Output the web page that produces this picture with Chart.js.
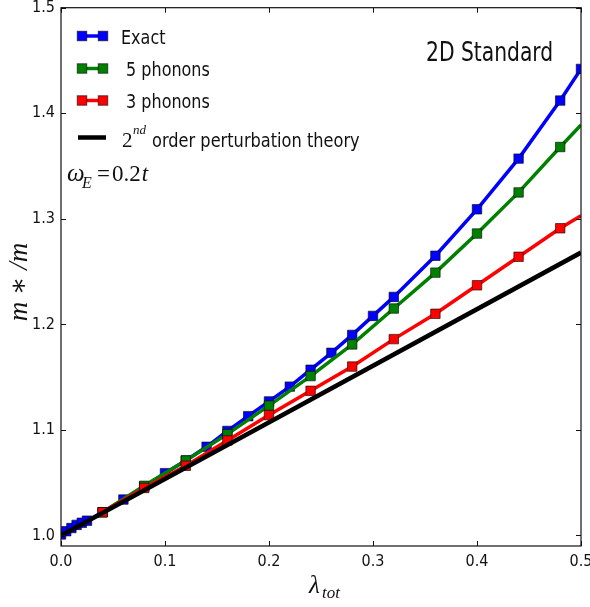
<!DOCTYPE html>
<html>
<head>
<meta charset="utf-8">
<script src="https://cdn.jsdelivr.net/npm/chart.js@4.4.1/dist/chart.umd.min.js"></script>
<style>
  html, body { margin: 0; padding: 0; background: #fff; }
  canvas { display: block; }
</style>
</head>
<body>
<canvas id="massChart" width="590" height="607"></canvas>
<script>
// values (lambda_tot vs m*/m)
const exactX = [0, 0.005, 0.01, 0.015, 0.02, 0.025, 0.04, 0.06, 0.08, 0.1, 0.12, 0.14, 0.16, 0.18, 0.2, 0.22, 0.24, 0.26, 0.28, 0.3, 0.32, 0.36, 0.4, 0.44, 0.48, 0.5];
const exactY = [1.001, 1.004, 1.007, 1.010, 1.012, 1.014, 1.022, 1.034, 1.046, 1.059, 1.071, 1.084, 1.099, 1.113, 1.127, 1.141, 1.157, 1.173, 1.190, 1.208, 1.226, 1.265, 1.309, 1.357, 1.412, 1.442];

const phonon5X = [0.04, 0.08, 0.12, 0.16, 0.2, 0.24, 0.28, 0.32, 0.36, 0.4, 0.44, 0.48, 0.5];
const phonon5Y = [1.022, 1.047, 1.071, 1.096, 1.123, 1.151, 1.181, 1.215, 1.249, 1.286, 1.325, 1.368, 1.389];

const phonon3X = [0.04, 0.08, 0.12, 0.16, 0.2, 0.24, 0.28, 0.32, 0.36, 0.4, 0.44, 0.48, 0.5];
const phonon3Y = [1.022, 1.045, 1.066, 1.090, 1.114, 1.137, 1.160, 1.186, 1.210, 1.237, 1.264, 1.291, 1.303];

const pertX = [0, 0.5];
const pertY = [1.0, 1.268];

const xTicks = [0, 0.1, 0.2, 0.3, 0.4, 0.5];
const yTicks = [1.0, 1.1, 1.2, 1.3, 1.4, 1.5];

const toPoints = (xs, ys) => xs.map((x, i) => ({ x: x, y: ys[i] }));

const SANS = '"DejaVu Sans", sans-serif';
const SERIF = '"Liberation Serif", "DejaVu Serif", serif';
const MARK = 6.7;

// last point of the truncated series sits on the frame without a marker
const edgeless = (n) => (ctx) => (ctx.dataIndex === n - 1 ? 0 : MARK);

function squeezed(ctx, text, x, y, size, sx) {
  ctx.save();
  ctx.translate(x, y);
  ctx.scale(sx, 1);
  ctx.font = size + 'px ' + SANS;
  ctx.fillText(text, 0, 0);
  ctx.restore();
}

function marker(ctx, x, y, color) {
  ctx.fillStyle = color;
  ctx.fillRect(x - 4.75, y - 4.75, 9.5, 9.5);
  ctx.strokeStyle = 'rgba(0,0,0,0.6)';
  ctx.lineWidth = 1;
  ctx.strokeRect(x - 4.75, y - 4.75, 9.5, 9.5);
}

const framePlugin = {
  id: 'frame',
  afterDraw(chart) {
    const ctx = chart.ctx;
    const a = chart.chartArea;
    const xs = chart.scales.x;
    const ys = chart.scales.y;
    ctx.save();

    // frame
    ctx.strokeStyle = '#111';
    ctx.lineWidth = 1.2;
    ctx.strokeRect(a.left, a.top, a.right - a.left, a.bottom - a.top);

    // inward ticks on all four sides
    ctx.lineWidth = 1;
    ctx.beginPath();
    xTicks.forEach(v => {
      const px = Math.round(xs.getPixelForValue(v)) + 0.5;
      ctx.moveTo(px, a.bottom); ctx.lineTo(px, a.bottom - 5);
      ctx.moveTo(px, a.top); ctx.lineTo(px, a.top + 5);
    });
    yTicks.forEach(v => {
      const py = Math.round(ys.getPixelForValue(v)) + 0.5;
      ctx.moveTo(a.left, py); ctx.lineTo(a.left + 5, py);
      ctx.moveTo(a.right, py); ctx.lineTo(a.right - 5, py);
    });
    ctx.stroke();

    // legend
    const rows = [36, 68.5, 100.5];
    chart.data.datasets.slice(0, 3).forEach((ds, i) => {
      const y = rows[i];
      ctx.strokeStyle = ds.borderColor;
      ctx.lineWidth = 3.5;
      ctx.beginPath();
      ctx.moveTo(80, y); ctx.lineTo(105, y);
      ctx.stroke();
      marker(ctx, 82, y, ds.borderColor);
      marker(ctx, 103, y, ds.borderColor);
      ctx.fillStyle = '#111';
      ctx.textBaseline = 'alphabetic';
      ctx.textAlign = 'left';
      squeezed(ctx, ds.label, 121, y + 7.5, 20, 0.8);
    });
    const pert = chart.data.datasets[3];
    ctx.strokeStyle = pert.borderColor;
    ctx.lineWidth = 4.5;
    ctx.beginPath();
    ctx.moveTo(78, 137.5); ctx.lineTo(106, 137.5);
    ctx.stroke();
    ctx.fillStyle = '#111';
    ctx.font = '21px ' + SERIF;
    ctx.fillText('2', 122, 147);
    ctx.font = 'italic 13px ' + SERIF;
    ctx.fillText('nd', 133, 134);
    squeezed(ctx, 'order perturbation theory', 152, 147, 20, 0.81);

    // omega_E annotation
    ctx.font = 'italic 25px ' + SERIF;
    ctx.fillText('\u03c9', 67, 181);
    ctx.font = 'italic 16px ' + SERIF;
    ctx.fillText('E', 82, 188);
    ctx.font = '23px ' + SERIF;
    ctx.fillText('=', 97, 181);
    ctx.fillText('0.2', 112, 181);
    const w = ctx.measureText('0.2').width;
    ctx.font = 'italic 23px ' + SERIF;
    ctx.fillText('t', 113 + w, 181);

    // panel label
    squeezed(ctx, '2D Standard', 426, 61, 26, 0.78);

    // y title
    ctx.save();
    ctx.translate(20, 282);
    ctx.rotate(-Math.PI / 2);
    ctx.textAlign = 'center';
    ctx.textBaseline = 'middle';
    ctx.font = 'italic 27px ' + SERIF;
    ctx.fillText('m \u2217 /m', 0, 0);
    ctx.restore();

    // x title
    ctx.textAlign = 'left';
    ctx.font = 'italic 25px ' + SERIF;
    ctx.fillText('\u03bb', 309, 593);
    ctx.font = 'italic 17px ' + SERIF;
    ctx.fillText('tot', 322, 598);

    ctx.restore();
  }
};

const tickFont = { family: '"DejaVu Sans Condensed", "DejaVu Sans", sans-serif', size: 16 };

new Chart(document.getElementById('massChart'), {
  type: 'line',
  data: {
    datasets: [
      {
        label: 'Exact',
        data: toPoints(exactX, exactY),
        borderColor: '#0000ff',
        backgroundColor: '#0000ff',
        borderWidth: 3.5,
        pointStyle: 'rect',
        pointRadius: MARK,
        pointBorderColor: 'rgba(0,0,0,0.6)',
        pointBorderWidth: 1,
        order: 4
      },
      {
        label: ' 5 phonons',
        data: toPoints(phonon5X, phonon5Y),
        borderColor: '#008000',
        backgroundColor: '#008000',
        borderWidth: 3.5,
        pointStyle: 'rect',
        pointRadius: edgeless(phonon5X.length),
        pointBorderColor: 'rgba(0,0,0,0.6)',
        pointBorderWidth: 1,
        order: 3
      },
      {
        label: ' 3 phonons',
        data: toPoints(phonon3X, phonon3Y),
        borderColor: '#ff0000',
        backgroundColor: '#ff0000',
        borderWidth: 3.5,
        pointStyle: 'rect',
        pointRadius: edgeless(phonon3X.length),
        pointBorderColor: 'rgba(0,0,0,0.6)',
        pointBorderWidth: 1,
        order: 2
      },
      {
        label: '2nd order perturbation theory',
        data: toPoints(pertX, pertY),
        borderColor: '#000000',
        borderWidth: 4.5,
        pointRadius: 0,
        order: 1
      }
    ]
  },
  options: {
    responsive: false,
    animation: false,
    devicePixelRatio: 1,
    events: [],
    layout: { padding: { top: 7, right: 9, left: 0, bottom: 0 } },
    datasets: { line: { tension: 0, clip: 0 } },
    plugins: {
      legend: { display: false },
      tooltip: { enabled: false }
    },
    scales: {
      x: {
        type: 'linear',
        min: 0,
        max: 0.5,
        afterBuildTicks: s => { s.ticks = xTicks.map(v => ({ value: v })); },
        afterFit: s => { s.height = 61; s.paddingLeft = 0; s.paddingRight = 0; },
        grid: { display: false, drawTicks: false },
        border: { display: false },
        ticks: {
          padding: 6,
          color: '#111',
          font: tickFont,
          maxRotation: 0,
          autoSkip: false,
          callback: v => v.toFixed(1)
        }
      },
      y: {
        type: 'linear',
        min: 0.99,
        max: 1.5,
        afterBuildTicks: s => { s.ticks = yTicks.map(v => ({ value: v })); },
        afterFit: s => { s.width = 61; s.paddingTop = 0; s.paddingBottom = 0; },
        grid: { display: false, drawTicks: false },
        border: { display: false },
        ticks: {
          padding: 6,
          color: '#111',
          font: tickFont,
          autoSkip: false,
          callback: v => v.toFixed(1)
        }
      }
    }
  },
  plugins: [framePlugin]
});
</script>
</body>
</html>
